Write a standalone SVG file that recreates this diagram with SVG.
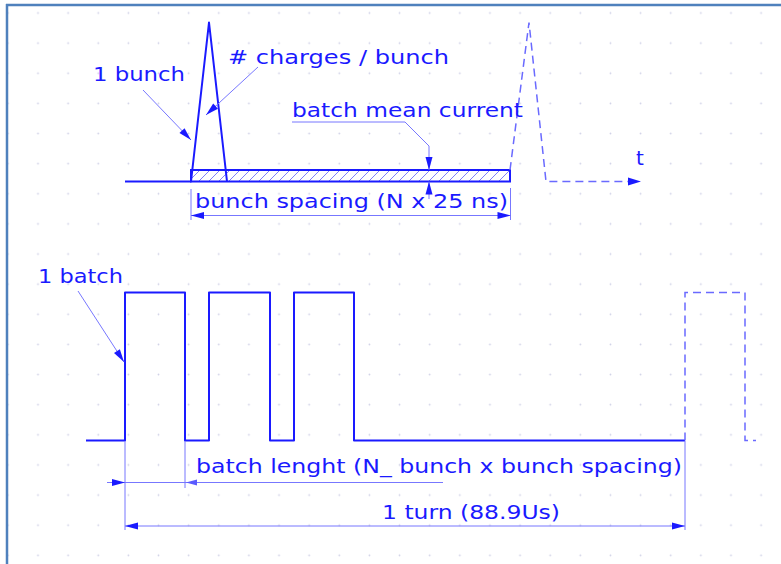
<svg xmlns="http://www.w3.org/2000/svg" width="781" height="564" viewBox="0 0 781 564">
  <defs>
    <pattern id="grid" patternUnits="userSpaceOnUse" x="22.93" y="-2.07" width="30.13" height="30.13">
      <circle cx="15.07" cy="15.07" r="0.9" fill="#cfd0e6"/>
    </pattern>
    <pattern id="hatch" patternUnits="userSpaceOnUse" x="0" y="0" width="10" height="10">
      <path d="M-1,1 L1,-1 M0,10 L10,0 M9,11 L11,9" stroke="#7f7fff" stroke-width="1"/>
    </pattern>
    <marker id="arr" markerUnits="userSpaceOnUse" markerWidth="15" markerHeight="10" viewBox="-14 -5 15 10" refX="0" refY="0" orient="auto-start-reverse">
      <path d="M0,0 L-13,-3.5 L-13,3.5 Z" fill="#1a1aff"/>
    </marker>
  </defs>
  <style>
    .txt { font-family: "DejaVu Sans", "Liberation Sans", sans-serif; font-size: 20px; fill: #1a1aff; }
    .wave { fill: none; stroke: #1a1aff; stroke-width: 2; stroke-linejoin: round; }
    .dash { fill: none; stroke: #6a6aff; stroke-width: 1.5; stroke-dasharray: 8 5; }
    .thin { fill: none; stroke: #7777ff; stroke-width: 1; }
    .ah { fill: #1a1aff; }
  </style>

  <rect x="0" y="0" width="781" height="564" fill="#ffffff"/>
  <rect x="8" y="6" width="773" height="558" fill="url(#grid)"/>
  <g id="frame">
    <line x1="6" y1="5" x2="781" y2="5" stroke="#4f81bd" stroke-width="2.5"/>
    <line x1="7" y1="4" x2="7" y2="564" stroke="#4f81bd" stroke-width="2.5"/>
  </g>

  <g id="bunch-waveform">
    <rect x="191" y="170" width="319" height="11.5" fill="url(#hatch)" stroke="#1a1aff" stroke-width="2"/>
    <polyline class="wave" points="125,181.5 191,181.5 209,22.5 227,181.5"/>
    <path class="dash" d="M510,170 L529,22.5 L546,181.5 L630,181.5"/>
    <polygon class="ah" points="641,181.5 628,177.5 628,185.5"/>
  </g>

  <g id="batch-waveform">
    <polyline class="wave" points="86,440.5 125,440.5 125,292.5 185,292.5 185,440.5 209,440.5 209,292.5 270,292.5 270,440.5 294,440.5 294,292.5 354,292.5 354,440.5 685,440.5"/>
    <polyline class="dash" points="685,440.5 685,292.5 745,292.5 745,440.5 756,440.5"/>
  </g>

  <g id="labels">
    <text class="txt" x="93" y="81" textLength="92" lengthAdjust="spacingAndGlyphs">1 bunch</text>
    <text class="txt" x="228" y="64" textLength="221" lengthAdjust="spacingAndGlyphs"># charges / bunch</text>
    <text class="txt" x="292" y="117" textLength="231" lengthAdjust="spacingAndGlyphs">batch mean current</text>
    <text class="txt" x="636" y="165">t</text>
    <text class="txt" x="195" y="208" textLength="313" lengthAdjust="spacingAndGlyphs">bunch spacing (N x 25 ns)</text>
    <text class="txt" x="38" y="283" textLength="85" lengthAdjust="spacingAndGlyphs">1 batch</text>
    <text class="txt" x="196" y="472.5" textLength="486" lengthAdjust="spacingAndGlyphs">batch lenght (N_ bunch x bunch spacing)</text>
    <text class="txt" x="382" y="519" textLength="178" lengthAdjust="spacingAndGlyphs">1 turn (88.9Us)</text>
  </g>

  <g id="connectors">
    <line class="thin" x1="143" y1="90" x2="191" y2="140" marker-end="url(#arr)"/>
    <line class="thin" x1="258" y1="67" x2="206" y2="115" marker-end="url(#arr)"/>
    <line class="thin" x1="78" y1="291" x2="124" y2="362" marker-end="url(#arr)"/>
    <polyline class="thin" points="292,122 405,122 429,146 429,170" marker-end="url(#arr)"/>
    <line class="thin" x1="429" y1="199" x2="429" y2="181.5" marker-end="url(#arr)"/>

    <line class="thin" x1="191" y1="189" x2="191" y2="220"/>
    <line class="thin" x1="510.5" y1="188" x2="510.5" y2="220"/>
    <line class="thin" x1="191" y1="215.5" x2="510.5" y2="215.5" marker-start="url(#arr)" marker-end="url(#arr)"/>

    <line class="thin" x1="125" y1="441" x2="125" y2="530"/>
    <line class="thin" x1="185" y1="441" x2="185" y2="488"/>
    <line class="thin" x1="685" y1="441" x2="685" y2="530"/>
    <line class="thin" x1="107" y1="482.5" x2="443" y2="482.5"/>
    <polygon class="ah" points="125,482.5 112,479 112,486"/>
    <polygon points="186,482.5 197,479.5 197,485.5" fill="#5a5aff"/>
    <line class="thin" x1="125" y1="526" x2="685" y2="526" marker-start="url(#arr)" marker-end="url(#arr)"/>
  </g>
</svg>
